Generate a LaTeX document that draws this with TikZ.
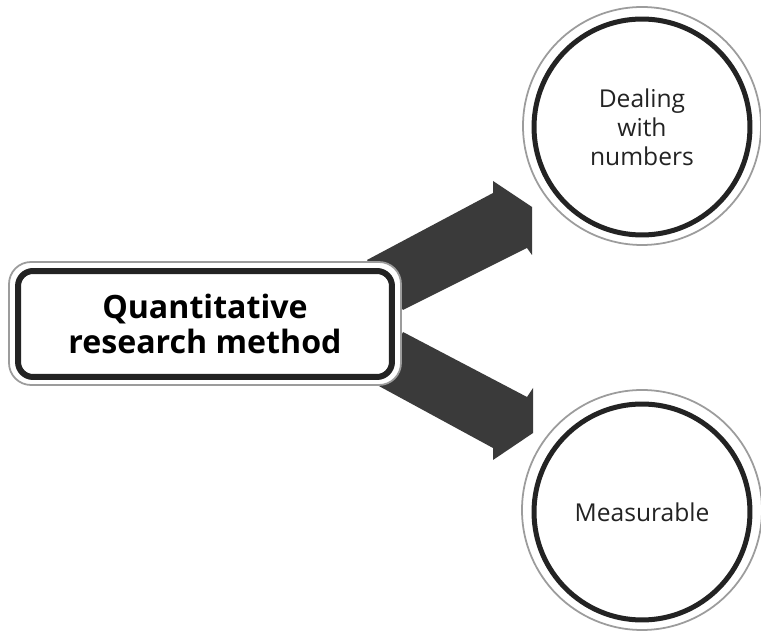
\documentclass[tikz,border=0pt]{standalone}
\usepackage{fontspec}
\setmainfont{Open Sans}
\usetikzlibrary{positioning}

\definecolor{arrowgray}{HTML}{3A3A3A}
\definecolor{ringdark}{HTML}{232323}
\definecolor{ringlight}{HTML}{9C9C9C}

\tikzset{
  blockarrow/.style={fill=arrowgray},
  outerline/.style={draw=ringlight,line width=1pt,fill=white},
  mainbox/.style={draw=ringdark,line width=0.12cm,fill=white,rounded corners=0.3cm,
    minimum width=7.48cm,minimum height=2.12cm,align=center,
    font=\fontsize{18.3}{20}\selectfont\bfseries},
  topic/.style={circle,draw=ringdark,line width=0.1cm,fill=white,text=ringdark,
    minimum size=4.32cm,align=center,font=\fontsize{14}{16.5}\selectfont}
}

\begin{document}
\begin{tikzpicture}[x=0.02cm,y=-0.02cm]
  \useasboundingbox[fill=white] (0,0) rectangle (761,641);

  % arrows behind the box
  \fill[blockarrow] (367,260) -- (493,193) -- (493,181) -- (532,207)
    -- (532,255) -- (527,248) -- (403,310) -- cycle;
  \fill[blockarrow] (377,385) -- (493,448) -- (493,460) -- (533,433)
    -- (533,388) -- (527,397) -- (403,332) -- cycle;

  % left box
  \draw[outerline,rounded corners=0.44cm] (9,262) rectangle (401,385);
  \node[mainbox] (qrm) at (205,324) {Quantitative\\research method};

  % circles
  \draw[outerline] (642,126) circle[radius=119];
  \node[topic] (numbers) at (642,127) {Dealing\\with\\numbers};

  \draw[outerline] (642,510) circle[radius=120];
  \node[topic] (measurable) at (642,512) {Measurable};
\end{tikzpicture}
\end{document}
